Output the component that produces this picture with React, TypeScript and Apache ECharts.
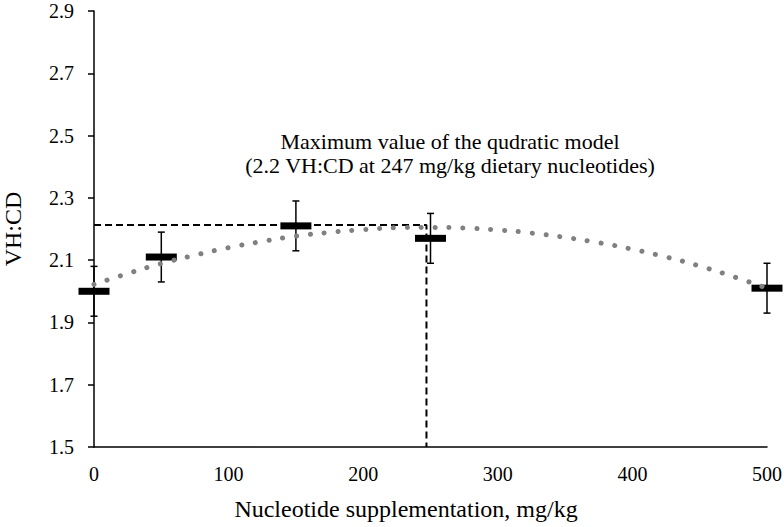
import React, { useEffect, useRef } from "react";
import * as echarts from "echarts";

const doses = [0, 50, 150, 250, 500];
const means = [2.0, 2.11, 2.21, 2.17, 2.01];
const errors = [0.08, 0.08, 0.08, 0.08, 0.08];

const curveX = [0, 25, 50, 75, 100, 125, 150, 175, 200, 225, 250, 275, 300, 325, 350, 375, 400, 425, 450, 475, 500];
const curveY = [2.022, 2.057, 2.089, 2.116, 2.14, 2.16, 2.177, 2.189, 2.198, 2.204, 2.205, 2.203, 2.197, 2.187, 2.173, 2.156, 2.135, 2.11, 2.081, 2.047, 2.01];

const maxDose = 247;
const maxValue = 2.213;

const annotationLines = [
  "Maximum value of the qudratic model",
  "(2.2 VH:CD at 247 mg/kg dietary nucleotides)",
];

const FONT = '"Liberation Serif", "Times New Roman", serif';

export default function App() {
  const ref = useRef<HTMLDivElement>(null);
  useEffect(() => {
    if (!ref.current) return;
    const chart = echarts.init(ref.current, undefined, { renderer: "svg" });
    const meanData = doses.map((d, i) => [d, means[i]]);
    const errData = doses.map((d, i) => [d, means[i] - errors[i], means[i] + errors[i]]);
    const curveData = curveX.map((x, i) => [x, curveY[i]]);
    chart.setOption({
      animation: false,
      backgroundColor: "#ffffff",
      grid: {
        left: 94,
        right: 17,
        top: 11,
        bottom: 80,
        containLabel: false,
        outerBoundsMode: "none",
      },
      xAxis: {
        type: "value",
        min: 0,
        max: 500,
        interval: 100,
        name: "Nucleotide supplementation, mg/kg",
        nameLocation: "middle",
        nameGap: 50,
        nameTextStyle: { fontFamily: FONT, fontSize: 24, color: "#000", padding: [0, 49, 0, 0] },
        axisLine: { lineStyle: { color: "#000", width: 1.5 } },
        axisTick: { show: false },
        splitLine: { show: false },
        axisLabel: { fontFamily: FONT, fontSize: 20, color: "#000", margin: 17 },
      },
      yAxis: {
        type: "value",
        min: 1.5,
        max: 2.9,
        interval: 0.2,
        name: "VH:CD",
        nameLocation: "middle",
        nameGap: 69,
        nameTextStyle: { fontFamily: FONT, fontSize: 24, color: "#000" },
        axisLine: { show: true, lineStyle: { color: "#000", width: 1.5 } },
        axisTick: { show: true, length: 6, inside: false, lineStyle: { color: "#000", width: 1.5 } },
        splitLine: { show: false },
        axisLabel: {
          fontFamily: FONT,
          fontSize: 20,
          color: "#000",
          margin: 20,
          formatter: (v: number) => v.toFixed(1),
        },
      },
      graphic: annotationLines.map((t, i) => ({
        type: "text",
        x: 450,
        y: i === 0 ? 141 : 165,
        style: {
          text: t,
          fontFamily: FONT,
          fontSize: 22,
          fill: "#000",
          textAlign: "center",
          textVerticalAlign: "middle",
        },
        z: 100,
      })),
      series: [
        {
          type: "line",
          data: [
            [0, maxValue],
            [maxDose, maxValue],
            [maxDose, 1.5],
          ],
          showSymbol: false,
          symbol: "none",
          lineStyle: { color: "#000", width: 2, type: [7, 4] },
          z: 2,
          silent: true,
        },
        {
          type: "custom",
          data: errData,
          renderItem: (params: any, api: any) => {
            const x = api.value(0);
            const lo = api.coord([x, api.value(1)]);
            const hi = api.coord([x, api.value(2)]);
            const cap = 3.5;
            const style = { stroke: "#000", lineWidth: 1.5 };
            return {
              type: "group",
              children: [
                { type: "line", shape: { x1: lo[0], y1: lo[1], x2: hi[0], y2: hi[1] }, style },
                { type: "line", shape: { x1: lo[0] - cap, y1: lo[1], x2: lo[0] + cap, y2: lo[1] }, style },
                { type: "line", shape: { x1: hi[0] - cap, y1: hi[1], x2: hi[0] + cap, y2: hi[1] }, style },
              ],
            };
          },
          z: 3,
          silent: true,
        },
        {
          type: "scatter",
          data: meanData,
          symbol: "rect",
          symbolSize: [31, 7],
          itemStyle: { color: "#000", opacity: 1 },
          z: 4,
          silent: true,
        },
        {
          type: "line",
          data: curveData,
          smooth: true,
          showSymbol: false,
          symbol: "none",
          lineStyle: { color: "#808080", width: 5, type: [0.1, 13.8], cap: "round" },
          z: 5,
          silent: true,
        },
      ],
    });
    return () => chart.dispose();
  }, []);
  return (
    <div
      ref={ref}
      style={{ position: "fixed", left: 0, top: 0, width: 784, height: 527 }}
    />
  );
}
